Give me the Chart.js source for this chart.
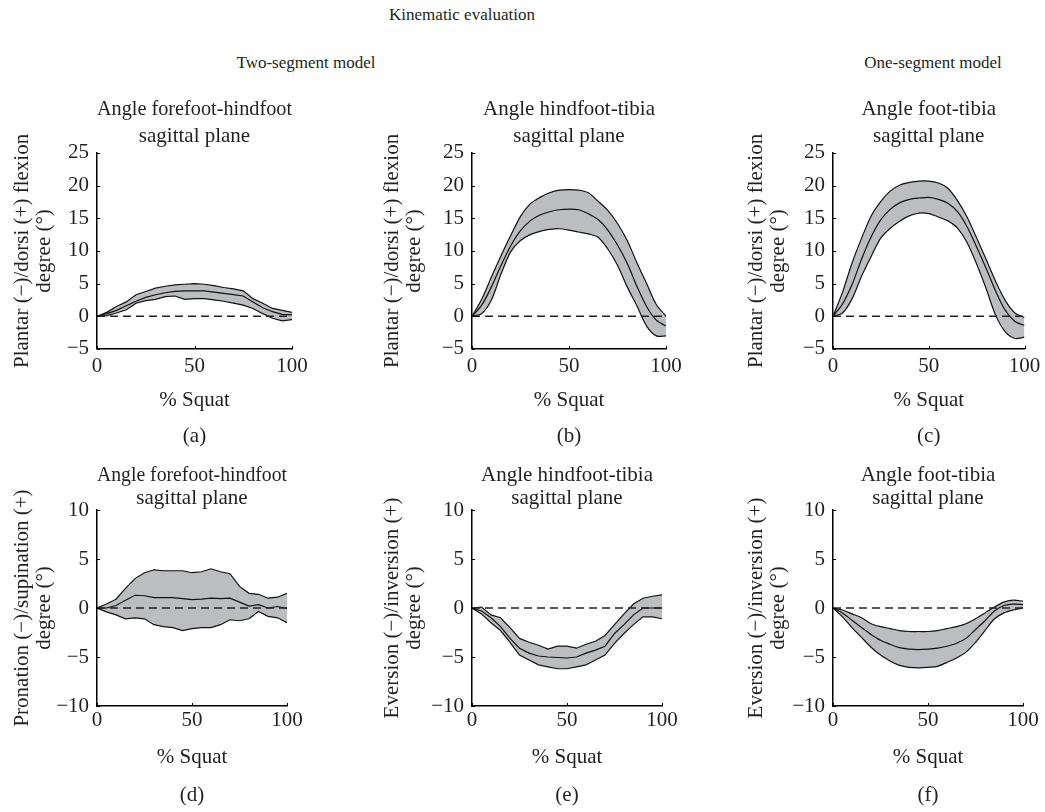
<!DOCTYPE html>
<html>
<head>
<meta charset="utf-8">
<script src="https://cdn.jsdelivr.net/npm/chart.js@4.4.1/dist/chart.umd.min.js"></script>
<style>
  body { margin: 0; background: #fff; width: 1045px; height: 812px; position: relative; overflow: hidden;
         font-family: "Liberation Serif", serif; color: #231f20; }
  .hd { position: absolute; width: 300px; text-align: center; font-size: 17px; line-height: 17px; white-space: nowrap; }
  canvas { position: absolute; }
</style>
</head>
<body>
<div class="hd" style="left:312px;top:6px">Kinematic evaluation</div>
<div class="hd" style="left:156px;top:54px">Two-segment model</div>
<div class="hd" style="left:783px;top:54px">One-segment model</div>
<canvas id="pa"></canvas>
<canvas id="pb"></canvas>
<canvas id="pc"></canvas>
<canvas id="pd"></canvas>
<canvas id="pe"></canvas>
<canvas id="pf"></canvas>
<script>
// % of squat cycle
const pct = [0, 5, 10, 15, 20, 25, 30, 35, 40, 45, 50, 55, 60, 65, 70, 75, 80, 85, 90, 95, 100];

// (a) forefoot-hindfoot, sagittal
const aUpper = [0, 0.6, 1.5, 2.2, 3.3, 3.8, 4.3, 4.6, 4.8, 4.9, 5.0, 4.9, 4.7, 4.4, 4.2, 3.9, 2.7, 2.0, 1.2, 0.9, 0.6];
const aMean  = [0, 0.4, 0.9, 1.6, 2.3, 2.9, 3.3, 3.6, 3.8, 3.9, 3.9, 3.9, 3.7, 3.5, 3.3, 3.1, 2.2, 1.3, 0.7, 0.3, 0.2];
const aLower = [0, 0.1, 0.5, 1.0, 2.0, 2.4, 2.6, 3.0, 3.1, 2.6, 2.7, 2.7, 2.5, 2.3, 2.0, 1.7, 1.2, 0.4, -0.3, -0.7, -0.5];
// (b) hindfoot-tibia, sagittal
const bUpper = [0, 2.6, 6.0, 9.3, 12.4, 15.3, 17.2, 18.2, 18.9, 19.3, 19.4, 19.3, 18.9, 17.6, 16.2, 14.2, 11.6, 8.2, 5.0, 1.8, 0];
const bMean  = [0, 1.7, 4.5, 7.8, 10.8, 13.1, 14.6, 15.5, 16.0, 16.3, 16.4, 16.3, 15.7, 14.8, 13.2, 10.9, 8.1, 4.6, 1.5, -0.6, -1.5];
const bLower = [0, 0.4, 2.5, 6.5, 9.9, 11.6, 12.5, 13.0, 13.3, 13.4, 13.2, 12.9, 12.6, 12.1, 10.3, 7.8, 4.5, 1.6, -1.5, -3.0, -3.0];
// (c) foot-tibia, sagittal
const cUpper = [0, 3.7, 8.2, 12.0, 15.4, 17.6, 19.2, 20.1, 20.5, 20.7, 20.7, 20.4, 19.6, 17.7, 15.2, 12.0, 8.7, 5.3, 2.4, 0.5, -0.2];
const cMean  = [0, 1.9, 4.9, 8.8, 12.2, 14.8, 16.4, 17.4, 17.9, 18.1, 18.2, 17.9, 17.3, 16.0, 13.7, 10.6, 7.3, 3.8, 0.9, -0.8, -1.4];
const cLower = [0, 0.5, 2.7, 6.2, 9.2, 12.0, 13.5, 14.6, 15.4, 15.8, 15.7, 15.2, 14.6, 13.5, 11.3, 8.0, 4.2, 0.1, -2.4, -3.4, -3.2];
// (d) forefoot-hindfoot, frontal
const dUpper = [0, 0.4, 0.9, 2.0, 3.0, 3.6, 3.9, 3.8, 3.8, 3.8, 3.6, 3.7, 4.0, 3.7, 3.5, 2.2, 1.5, 1.4, 1.0, 1.1, 1.5];
const dMean  = [0, 0.0, 0.25, 0.8, 1.3, 1.25, 1.05, 1.05, 1.05, 0.95, 0.85, 0.9, 1.0, 0.95, 1.0, 0.6, 0.2, 0.35, 0.0, 0.15, -0.05];
const dLower = [0, -0.4, -0.7, -1.1, -1.0, -1.1, -1.7, -1.9, -2.0, -2.3, -2.1, -2.0, -2.0, -1.7, -1.2, -1.3, -1.1, -0.35, -0.85, -1.0, -1.5];
// (e) hindfoot-tibia, frontal
const eUpper = [0, 0.1, -0.7, -1.0, -2.0, -3.1, -3.5, -3.8, -4.2, -3.9, -3.9, -4.1, -3.7, -3.4, -2.8, -1.7, -0.6, 0.4, 1.0, 1.2, 1.35];
const eMean  = [0, -0.3, -1.0, -1.9, -3.1, -4.1, -4.6, -4.9, -5.0, -5.05, -5.1, -5.0, -4.6, -4.3, -3.9, -2.6, -1.7, -0.7, 0.0, 0.0, 0.0];
const eLower = [0, -0.6, -1.5, -2.3, -3.5, -4.8, -5.3, -5.8, -6.0, -6.2, -6.2, -6.0, -5.8, -5.3, -4.8, -3.6, -2.6, -1.7, -0.9, -0.9, -1.1];
// (f) foot-tibia, frontal
const fUpper = [0, -0.2, -0.6, -1.0, -1.6, -1.9, -2.1, -2.3, -2.4, -2.4, -2.4, -2.3, -2.1, -1.9, -1.6, -1.1, -0.5, 0.1, 0.6, 0.8, 0.7];
const fMean  = [0, -0.5, -1.25, -2.0, -2.7, -3.3, -3.7, -4.05, -4.2, -4.25, -4.2, -4.1, -3.9, -3.6, -3.1, -2.2, -1.3, -0.3, 0.25, 0.4, 0.35];
const fLower = [0, -0.9, -2.0, -3.0, -4.0, -4.8, -5.4, -5.85, -6.05, -6.1, -6.05, -5.95, -5.55, -5.1, -4.5, -3.5, -2.3, -1.1, -0.5, -0.2, 0];

const zeroRef = 0;

const panelTitles = [
  ['Angle forefoot-hindfoot', 'sagittal plane'],
  ['Angle hindfoot-tibia', 'sagittal plane'],
  ['Angle foot-tibia', 'sagittal plane'],
  ['Angle forefoot-hindfoot', 'sagittal plane'],
  ['Angle hindfoot-tibia', 'sagittal plane'],
  ['Angle foot-tibia', 'sagittal plane']
];
const panelLetters = ['(a)', '(b)', '(c)', '(d)', '(e)', '(f)'];
const yTitles = [
  ['Plantar (−)/dorsi (+) flexion', 'degree (°)'],
  ['Plantar (−)/dorsi (+) flexion', 'degree (°)'],
  ['Plantar (−)/dorsi (+) flexion', 'degree (°)'],
  ['Pronation (−)/supination (+)', 'degree (°)'],
  ['Eversion (−)/inversion (+)', 'degree (°)'],
  ['Eversion (−)/inversion (+)', 'degree (°)']
];
const yRanges = [[-5, 25], [-5, 25], [-5, 25], [-10, 10], [-10, 10], [-10, 10]];
const xTitle = '% Squat';

const series = [
  [aUpper, aMean, aLower], [bUpper, bMean, bLower], [cUpper, cMean, cLower],
  [dUpper, dMean, dLower], [eUpper, eMean, eLower], [fUpper, fMean, fLower]
];
const smooth = [0, 0.3, 0.3, 0, 0, 0.3];

// layout
const FONT = 'Liberation Serif';
const rows = [
  { top: 80, h: 370, titleLH: 26.67, titlePadT: 16.6, titlePadB: 3.0, tickPad: 4.75, xTitlePadB: 1.7, subPadT: 8.7, padB: 1.16 },
  { top: 440, h: 370, titleLH: 23, titlePadT: 23.5, titlePadB: 0.5, tickPad: 2.05, xTitlePadB: 1.75, subPadT: 11.05, padB: 1.75 }
];
const cols = [{ left: 0, yPad: 11.5 }, { left: 375, yPad: 6 }, { left: 736, yPad: 9 }];
const widths = [[332, 331, 309], [317, 317, 309]];
const areaWidths = [[195, 194, 194], [190, 190, 190]];

const innerTicks = {
  id: 'innerTicks',
  afterDraw(chart) {
    const { ctx, chartArea: area, scales: { x, y } } = chart;
    ctx.save();
    ctx.strokeStyle = '#000';
    ctx.lineWidth = 1;
    ctx.beginPath();
    x.ticks.forEach(t => {
      const px = Math.round(x.getPixelForValue(t.value)) + 0.5;
      ctx.moveTo(px, area.bottom);
      ctx.lineTo(px, area.bottom - 3);
    });
    y.ticks.forEach(t => {
      const py = Math.round(y.getPixelForValue(t.value)) + 0.5;
      ctx.moveTo(area.left, py);
      ctx.lineTo(area.left + 3, py);
    });
    ctx.stroke();
    ctx.restore();
  }
};

const fmt = v => v < 0 ? '−' + Math.abs(v) : '' + v;
const toXY = arr => arr.map((v, i) => ({ x: pct[i], y: v }));

['pa', 'pb', 'pc', 'pd', 'pe', 'pf'].forEach((id, i) => {
  const row = Math.floor(i / 3);
  const r = rows[row];
  const c = cols[i % 3];
  const w = widths[row][i % 3];
  const canvas = document.getElementById(id);
  canvas.width = w;
  canvas.height = r.h;
  canvas.style.left = c.left + 'px';
  canvas.style.top = r.top + 'px';
  const [up, mean, low] = series[i];
  const lineOpts = { borderColor: '#111', borderWidth: 1.2, pointRadius: 0, tension: smooth[i] };

  new Chart(canvas, {
    type: 'line',
    data: {
      datasets: [
        { ...lineOpts, data: toXY(up), fill: '+2', backgroundColor: '#bcbdc0', order: 3 },
        { ...lineOpts, data: toXY(mean), fill: false, order: 1 },
        { ...lineOpts, data: toXY(low), fill: false, order: 2 },
        { data: [{ x: pct[0], y: zeroRef }, { x: pct[pct.length - 1], y: zeroRef }],
          borderColor: '#222', borderWidth: 1.3, borderDash: [8, 5], pointRadius: 0, fill: false, order: 0 }
      ]
    },
    options: {
      responsive: false,
      animation: false,
      layout: { padding: { left: 0, top: 0, right: w - 97 - areaWidths[row][i % 3], bottom: r.padB } },
      plugins: {
        legend: { display: false },
        tooltip: { enabled: false },
        filler: { drawTime: 'beforeDatasetsDraw' },
        title: {
          display: true, text: panelTitles[i], fullSize: false, color: '#231f20',
          font: { family: FONT, size: 21, weight: 'normal', lineHeight: r.titleLH + 'px' },
          padding: { top: r.titlePadT, bottom: r.titlePadB }
        },
        subtitle: {
          display: true, text: panelLetters[i], position: 'bottom', fullSize: false, color: '#231f20',
          font: { family: FONT, size: 21, weight: 'normal', lineHeight: '25.2px' },
          padding: { top: r.subPadT, bottom: 0 }
        }
      },
      scales: {
        x: {
          type: 'linear', min: 0, max: 100,
          ticks: { stepSize: 50, padding: r.tickPad, maxRotation: 0, color: '#231f20',
                   font: { family: FONT, size: 21, lineHeight: '25.2px' } },
          grid: { display: false, drawTicks: false },
          border: { display: true, color: '#000', width: 1.5 },
          title: { display: true, text: xTitle, color: '#231f20',
                   font: { family: FONT, size: 21, lineHeight: '25.2px' },
                   padding: { top: 0, bottom: r.xTitlePadB } },
          afterFit: s => { s.height = 66; }
        },
        y: {
          min: yRanges[i][0], max: yRanges[i][1],
          ticks: { stepSize: 5, padding: 8, color: '#231f20', callback: fmt,
                   font: { family: FONT, size: 21, lineHeight: '25.2px' } },
          grid: { display: false, drawTicks: false },
          border: { display: true, color: '#000', width: 1.5 },
          title: { display: true, text: yTitles[i], color: '#231f20',
                   font: { family: FONT, size: 21, lineHeight: '22px' },
                   padding: { top: c.yPad, bottom: 0 } },
          afterFit: s => { s.width = 97; }
        }
      }
    },
    plugins: [innerTicks]
  });
});
</script>
</body>
</html>
